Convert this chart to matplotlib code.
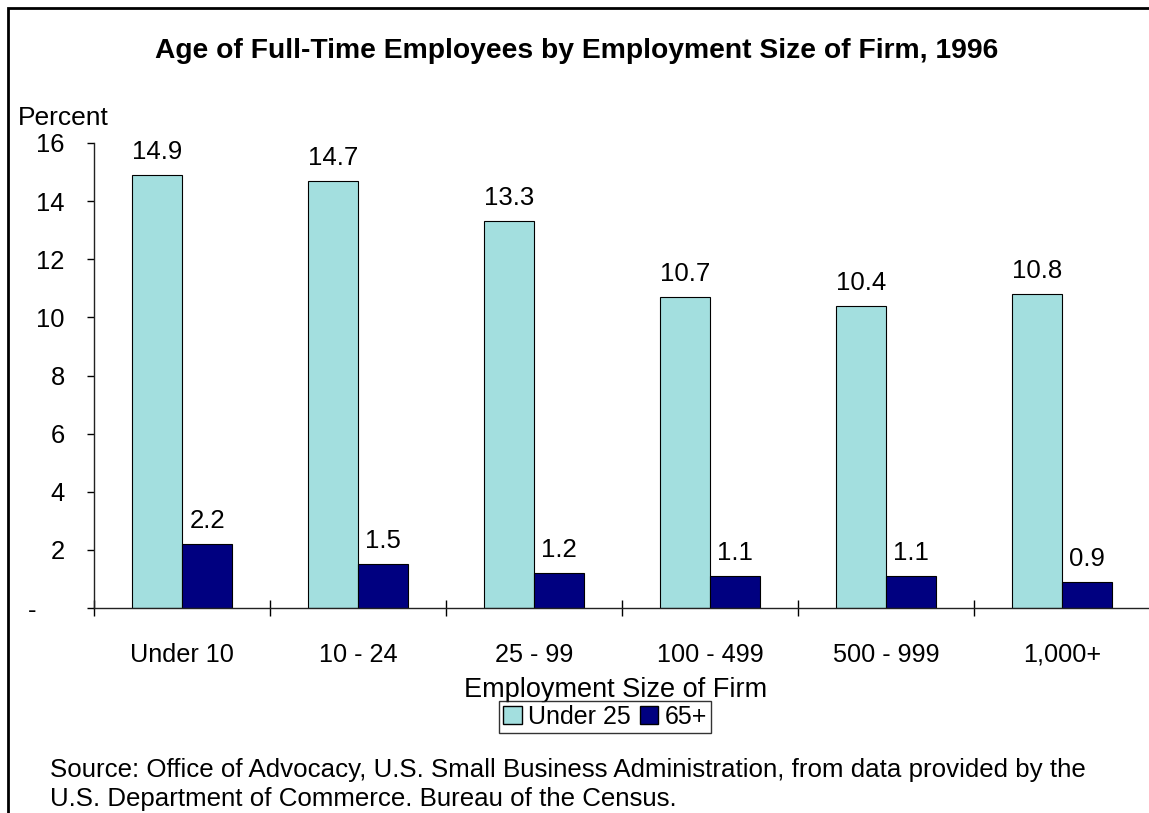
import numpy as np
import matplotlib
matplotlib.use('Agg')
import matplotlib.pyplot as plt
from matplotlib.patches import Rectangle, Patch

plt.rcParams['font.family'] = ['Liberation Sans', 'DejaVu Sans']

# data
categories = ['Under 10', '10 - 24', '25 - 99', '100 - 499', '500 - 999', '1,000+']
under25 = [14.9, 14.7, 13.3, 10.7, 10.4, 10.8]
age65 = [2.2, 1.5, 1.2, 1.1, 1.1, 0.9]
yticks = [0, 2, 4, 6, 8, 10, 12, 14, 16]
ytick_labels = ['-    ', '2', '4', '6', '8', '10', '12', '14', '16']

W, H = 1149, 813
fig = plt.figure(figsize=(W / 100, H / 100), dpi=100)

# outer frame of the chart area
fig.patches.append(Rectangle((8 / W, -0.1), 1.2, 1 - 8 / H + 0.1, transform=fig.transFigure,
                             fill=False, edgecolor='black', linewidth=2))

ax = fig.add_axes([94 / W, 1 - 608 / H, 1056 / W, (608 - 143) / H])

x = np.arange(len(categories))
bw = 0.285
b1 = ax.bar(x - bw / 2, under25, bw, color='#A3DFDF', edgecolor='black', linewidth=0.8, label='Under 25')
b2 = ax.bar(x + bw / 2, age65, bw, color='#000080', edgecolor='black', linewidth=0.8, label='65+')

for bars, vals in [(b1, under25), (b2, age65)]:
    for b, v in zip(bars, vals):
        ax.annotate(f'{v:.1f}', (b.get_x() + b.get_width() / 2, v), xytext=(0, 8),
                    textcoords='offset points', ha='center', va='bottom', fontsize=18.5)

ax.set_xlim(-0.5, len(categories) - 0.5)
ax.set_ylim(0, 16)
ax.set_yticks(yticks)
ax.set_yticklabels(ytick_labels, fontsize=18.4)
ax.tick_params(axis='y', direction='out', length=5, width=1, pad=16)

# boundary ticks crossing the axis, labels centred between them
ax.set_xticks(np.arange(-0.5, len(categories), 1.0))
ax.set_xticklabels([])
ax.tick_params(axis='x', which='major', direction='inout', length=12, width=1)
ax.set_xticks(x, minor=True)
ax.set_xticklabels(categories, minor=True, fontsize=18.2)
ax.tick_params(axis='x', which='minor', length=0, pad=25)

for s in ['top', 'right']:
    ax.spines[s].set_visible(False)
for s in ['left', 'bottom']:
    ax.spines[s].set_linewidth(1)
    ax.spines[s].set_color('#222222')

fig.text(577 / W, 1 - 51 / H, 'Age of Full-Time Employees by Employment Size of Firm, 1996',
         ha='center', va='center', fontsize=20.3, fontweight='bold')
fig.text(18 / W, 1 - 118 / H, 'Percent', ha='left', va='center', fontsize=19)
fig.text(616 / W, 1 - 690 / H, 'Employment Size of Firm', ha='center', va='center', fontsize=19.5)

leg = fig.legend(handles=[Patch(facecolor='#A3DFDF', edgecolor='black', label='Under 25'),
                          Patch(facecolor='#000080', edgecolor='black', label='65+')],
                 loc='center', bbox_to_anchor=(605 / W, 1 - 717 / H), ncol=2, fontsize=18,
                 frameon=True, fancybox=False, handlelength=0.75, handleheight=0.75,
                 handletextpad=0.25, columnspacing=0.35, borderpad=0.15, borderaxespad=0)
leg.get_frame().set_edgecolor('black')
leg.get_frame().set_linewidth(1)

fig.text(50 / W, 1 - 770 / H, 'Source: Office of Advocacy, U.S. Small Business Administration, from data provided by the',
         ha='left', va='center', fontsize=18.6)
fig.text(50 / W, 1 - 799 / H, 'U.S. Department of Commerce. Bureau of the Census.',
         ha='left', va='center', fontsize=18.6)

fig.savefig('out.png', dpi=100)
